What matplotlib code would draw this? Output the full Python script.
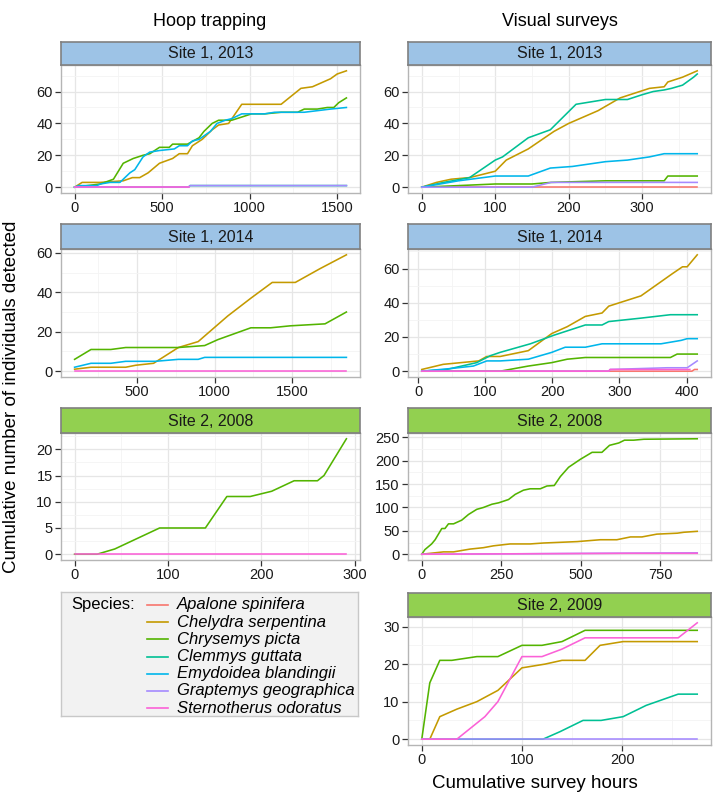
import matplotlib
matplotlib.use("Agg")
import matplotlib.pyplot as plt
from matplotlib.patches import Rectangle
import numpy as np

plt.rcParams['font.family'] = ['Liberation Sans', 'DejaVu Sans']

SPECIES = ["Apalone spinifera", "Chelydra serpentina", "Chrysemys picta",
           "Clemmys guttata", "Emydoidea blandingii", "Graptemys geographica",
           "Sternotherus odoratus"]
COLORS = ["#F8766D", "#C49A00", "#53B400", "#00C094", "#00B6EB", "#A58AFF", "#FB61D7"]

# ---- Hoop trapping, Site 1, 2013 ----
hoop_s1_2013 = {
    "Chelydra serpentina": (
        [0, 43, 147, 278, 330, 372, 420, 485, 560, 598, 645, 673, 729, 786, 823, 880, 955, 1180, 1293, 1359, 1462, 1500, 1553],
        [0, 3, 3, 4, 6, 6, 9, 15, 18, 21, 21, 26, 30, 36, 39, 40, 52, 52, 62, 63, 68, 71, 73]),
    "Chrysemys picta": (
        [0, 147, 222, 278, 335, 391, 430, 485, 541, 560, 645, 711, 739, 786, 823, 898, 955, 1011, 1086, 1180, 1274, 1312, 1387, 1444, 1481, 1509, 1553],
        [0, 2, 5, 15, 18, 20, 21, 25, 25, 27, 27, 31, 35, 40, 42, 42, 44, 46, 46, 47, 47, 49, 49, 50, 50, 53, 56]),
    "Clemmys guttata": ([0, 650, 660, 1553], [0, 0, 1, 1]),
    "Emydoidea blandingii": (
        [0, 24, 128, 147, 203, 259, 316, 344, 391, 429, 485, 570, 598, 645, 673, 711, 776, 814, 861, 898, 955, 1086, 1143, 1312, 1387, 1462, 1553],
        [0, 1, 1, 2, 3, 3, 9, 11, 19, 22, 23, 24, 26, 26, 29, 30, 35, 40, 42, 43, 46, 46, 47, 47, 48, 49, 50]),
    "Graptemys geographica": ([0, 650, 660, 1553], [0, 0, 1, 1]),
    "Sternotherus odoratus": ([0, 655], [0, 0]),
}

# ---- Hoop trapping, Site 1, 2014 ----
hoop_s1_2014 = {
    "Chelydra serpentina": (
        [96, 202, 426, 490, 606, 766, 894, 1085, 1234, 1372, 1521, 1681, 1851],
        [1, 2, 2, 3, 4, 12, 15, 28, 37, 45, 45, 52, 59]),
    "Chrysemys picta": (
        [96, 202, 330, 426, 766, 936, 1021, 1234, 1362, 1489, 1713, 1851],
        [6, 11, 11, 12, 12, 13, 16, 22, 22, 23, 24, 30]),
    "Emydoidea blandingii": (
        [96, 202, 330, 426, 617, 766, 894, 936, 1851],
        [2, 4, 4, 5, 5, 6, 6, 7, 7]),
    "Sternotherus odoratus": ([96, 1851], [0, 0]),
}

# ---- Hoop trapping, Site 2, 2008 ----
hoop_s2_2008 = {
    "Chrysemys picta": (
        [0, 24, 43, 91, 140, 163, 188, 211, 235, 260, 267, 291],
        [0, 0, 1, 5, 5, 11, 11, 12, 14, 14, 15, 22]),
    "Sternotherus odoratus": ([0, 291], [0, 0]),
}

# ---- Visual surveys, Site 1, 2013 ----
vis_s1_2013 = {
    "Apalone spinifera": ([0, 375], [0, 0]),
    "Chelydra serpentina": (
        [0, 20, 40, 65, 100, 115, 145, 180, 200, 240, 270, 290, 310, 330, 335, 355, 375],
        [0, 3, 5, 6, 10, 17, 24, 35, 40, 48, 56, 59, 62, 63, 66, 69, 73]),
    "Chrysemys picta": (
        [0, 50, 100, 150, 176, 250, 330, 335, 375],
        [0, 1, 2, 2, 3, 4, 4, 7, 7]),
    "Clemmys guttata": (
        [0, 30, 65, 100, 110, 145, 175, 210, 250, 280, 300, 315, 330, 340, 355, 370, 375],
        [0, 3, 6, 17, 19, 31, 36, 52, 55, 55, 58, 60, 61, 62, 64, 69, 71]),
    "Emydoidea blandingii": (
        [0, 50, 100, 145, 175, 205, 250, 280, 310, 330, 375],
        [0, 4, 7, 7, 12, 13, 16, 17, 19, 21, 21]),
    "Graptemys geographica": ([0, 150, 176, 375], [0, 0, 3, 3]),
}

# ---- Visual surveys, Site 1, 2014 ----
vis_s1_2014 = {
    "Apalone spinifera": ([5, 408, 412, 416], [0, 0, 1, 1]),
    "Chelydra serpentina": (
        [5, 37, 90, 102, 122, 164, 199, 222, 249, 274, 284, 332, 379, 394, 401, 416],
        [1, 4, 6, 8.6, 8.6, 12, 22, 26, 32, 34, 38, 44, 57, 61, 61, 68]),
    "Chrysemys picta": (
        [5, 122, 164, 199, 222, 249, 376, 386, 396, 416],
        [0, 0, 3, 5, 7, 8, 8, 10, 10, 10]),
    "Clemmys guttata": (
        [5, 42, 87, 107, 122, 167, 202, 249, 274, 284, 332, 376, 416],
        [0, 1, 5, 9, 11, 16, 21, 27, 27, 29, 31, 33, 33]),
    "Emydoidea blandingii": (
        [5, 47, 82, 102, 122, 164, 199, 219, 249, 274, 362, 392, 401, 416],
        [0, 1.5, 3, 6, 6, 7, 11, 14, 14, 16, 16, 18, 19, 19]),
    "Graptemys geographica": ([5, 284, 286, 371, 401, 416], [0, 0, 1, 2, 2, 6]),
    "Sternotherus odoratus": ([5, 284, 286, 405], [0, 0, 1, 1]),
}

# ---- Visual surveys, Site 2, 2008 ----
vis_s2_2008 = {
    "Chelydra serpentina": (
        [0, 68, 100, 152, 194, 226, 278, 341, 383, 489, 562, 614, 657, 693, 740, 804, 825, 867],
        [0, 5, 5, 11, 14, 18, 22, 22, 24, 27, 31, 31, 37, 37, 43, 45, 47, 49]),
    "Chrysemys picta": (
        [0, 10, 31, 42, 63, 73, 84, 100, 126, 147, 173, 194, 221, 242, 273, 294, 320, 341, 373, 394, 417, 436, 462, 499, 536, 567, 591, 620, 638, 667, 699, 867],
        [0, 10, 22, 31, 55, 55, 65, 65, 73, 85, 96, 100, 107, 110, 117, 128, 137, 140, 140, 146, 147, 166, 186, 203, 218, 218, 233, 238, 244, 244, 246, 247]),
    "Graptemys geographica": ([0, 310, 560, 867], [0, 1, 2, 3]),
    "Sternotherus odoratus": ([0, 330, 660, 867], [0, 1, 2, 2]),
}

# ---- Visual surveys, Site 2, 2009 ----
vis_s2_2009 = {
    "Chelydra serpentina": (
        [0, 8, 18, 35, 55, 76, 100, 123, 140, 163, 178, 201, 275],
        [0, 0, 6, 8, 10, 13, 19, 20, 21, 21, 25, 26, 26]),
    "Chrysemys picta": (
        [0, 8, 18, 30, 55, 76, 100, 120, 140, 163, 275],
        [0, 15, 21, 21, 22, 22, 25, 25, 26, 29, 29]),
    "Clemmys guttata": (
        [0, 121, 138, 161, 179, 201, 224, 256, 275],
        [0, 0, 2, 5, 5, 6, 9, 12, 12]),
    "Graptemys geographica": ([0, 275], [0, 0]),
    "Sternotherus odoratus": (
        [0, 35, 63, 76, 100, 120, 140, 163, 256, 275],
        [0, 0, 6, 10, 22, 22, 24, 27, 27, 31]),
}

BLUE_STRIP = "#9DC3E6"
GREEN_STRIP = "#92D050"

# panel: data, strip label, strip colour, column, row, x ticks, y ticks
PANELS = [
    (hoop_s1_2013, "Site 1, 2013", BLUE_STRIP, 0, 0, [0, 500, 1000, 1500], [0, 20, 40, 60]),
    (hoop_s1_2014, "Site 1, 2014", BLUE_STRIP, 0, 1, [500, 1000, 1500], [0, 20, 40, 60]),
    (hoop_s2_2008, "Site 2, 2008", GREEN_STRIP, 0, 2, [0, 100, 200, 300], [0, 5, 10, 15, 20]),
    (vis_s1_2013, "Site 1, 2013", BLUE_STRIP, 1, 0, [0, 100, 200, 300], [0, 20, 40, 60]),
    (vis_s1_2014, "Site 1, 2014", BLUE_STRIP, 1, 1, [0, 100, 200, 300, 400], [0, 20, 40, 60]),
    (vis_s2_2008, "Site 2, 2008", GREEN_STRIP, 1, 2, [0, 250, 500, 750], [0, 50, 100, 150, 200, 250]),
    (vis_s2_2009, "Site 2, 2009", GREEN_STRIP, 1, 3, [0, 100, 200], [0, 10, 20, 30]),
]

W, H = 717, 797
fig = plt.figure(figsize=(W / 100, H / 100), dpi=100)

COLX = [(61, 360), (408, 711)]
ROWY = [(42, 65, 193), (224, 249, 377), (408, 433, 560), (593, 617, 745)]


def px_axes(x0, y0, x1, y1, **kw):
    return fig.add_axes([x0 / W, 1 - y1 / H, (x1 - x0) / W, (y1 - y0) / H], **kw)


def minor_of(ticks, lo, hi):
    step = ticks[1] - ticks[0]
    cands = [t + step / 2 for t in ticks] + [ticks[0] - step / 2]
    return [c for c in cands if lo < c < hi]


for data, label, scol, col, row, xt, yt in PANELS:
    x0, x1 = COLX[col]
    st, sb, pb = ROWY[row]
    ax = px_axes(x0, sb, x1, pb)
    allx = np.concatenate([np.asarray(v[0], float) for v in data.values()])
    ally = np.concatenate([np.asarray(v[1], float) for v in data.values()])
    xr = allx.max() - allx.min()
    yr = ally.max() - ally.min()
    xlo, xhi = allx.min() - 0.05 * xr, allx.max() + 0.05 * xr
    ylo, yhi = ally.min() - 0.05 * yr, ally.max() + 0.05 * yr
    ax.set_xlim(xlo, xhi)
    ax.set_ylim(ylo, yhi)
    ax.set_xticks(xt)
    ax.set_yticks(yt)
    ax.set_xticks(minor_of(xt, xlo, xhi), minor=True)
    ax.set_yticks(minor_of(yt, ylo, yhi), minor=True)
    ax.grid(which="major", color="#e6e6e6", lw=0.9)
    ax.grid(which="minor", color="#f4f4f4", lw=0.6)
    ax.set_axisbelow(True)
    for sp in ax.spines.values():
        sp.set_color("#b5b5b5")
        sp.set_linewidth(1.0)
    ax.tick_params(which="major", direction="out", length=4, width=0.9, color="#333333",
                   labelsize=10.5, labelcolor="#1a1a1a", pad=2)
    ax.tick_params(which="minor", length=0)
    for sp_name, c in zip(SPECIES, COLORS):
        if sp_name in data:
            xs, ys = data[sp_name]
            ax.plot(xs, ys, color=c, lw=1.15, solid_joinstyle="round")
    # strip
    sax = px_axes(x0, st, x1, sb)
    sax.set_xticks([])
    sax.set_yticks([])
    sax.set_facecolor(scol)
    for sp in sax.spines.values():
        sp.set_color("#808080")
        sp.set_linewidth(1.2)
    sax.text(0.5, 0.48, label, ha="center", va="center", fontsize=11.5,
             color="#1a1a1a", transform=sax.transAxes)

# column titles and axis labels
fig.text(210 / W, 1 - 22 / H, "Hoop trapping", ha="center", va="center", fontsize=13)
fig.text(560 / W, 1 - 22 / H, "Visual surveys", ha="center", va="center", fontsize=13)
fig.text(12 / W, 1 - 397 / H, "Cumulative number of individuals detected",
         ha="center", va="center", rotation=90, fontsize=13.5)
fig.text(535 / W, 1 - 784 / H, "Cumulative survey hours", ha="center", va="center",
         fontsize=13.5)

# legend
lax = px_axes(61, 592, 358, 716)
lax.set_xlim(0, 297)
lax.set_ylim(124, 0)
lax.set_xticks([])
lax.set_yticks([])
lax.set_facecolor("#f2f2f2")
for sp in lax.spines.values():
    sp.set_color("#c8c8c8")
    sp.set_linewidth(1.0)
lax.text(10, 13, "Species:", ha="left", va="center", fontsize=12)
for i, (sp_name, c) in enumerate(zip(SPECIES, COLORS)):
    yy = 13 + i * 17.2
    lax.plot([86, 107], [yy, yy], color=c, lw=1.2)
    lax.text(116, yy, sp_name, ha="left", va="center", fontsize=12, style="italic")

fig.savefig("out.png", dpi=100)
